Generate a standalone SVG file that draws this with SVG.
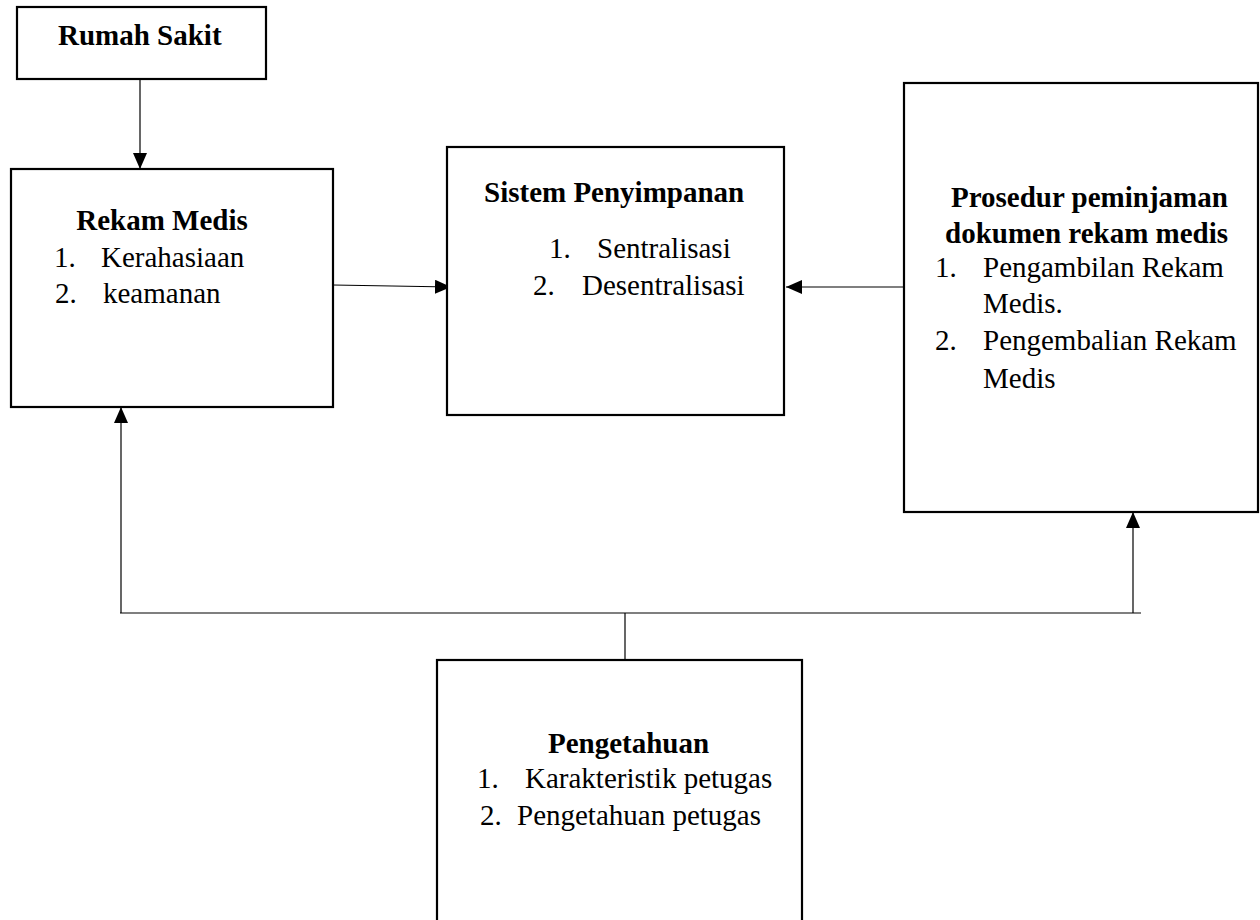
<svg xmlns="http://www.w3.org/2000/svg" width="1260" height="920" viewBox="0 0 1260 920">
<style>
.box{fill:#fff;stroke:#000;stroke-width:2.2}
.t{font-family:"Liberation Serif","Times New Roman",serif;font-size:29px;fill:#000}
.b{font-weight:bold}
.c{fill:none;stroke:#000;stroke-width:1.2}
</style>
<defs>
<marker id="ah" markerWidth="16" markerHeight="14" refX="16" refY="7" orient="auto" markerUnits="userSpaceOnUse">
<path d="M0,0 L16,7 L0,14 Z" fill="#000"/>
</marker>
</defs>
<rect width="1260" height="920" fill="#fff"/>
<g id="connectors">
<line class="c" x1="140" y1="79" x2="140" y2="169" marker-end="url(#ah)"/>
<line class="c" x1="333" y1="285" x2="451" y2="287" marker-end="url(#ah)"/>
<line class="c" x1="904" y1="287" x2="786" y2="287" marker-end="url(#ah)"/>
<polyline class="c" points="625,660 625,613"/>
<line class="c" x1="120" y1="613" x2="1141" y2="613"/>
<line class="c" x1="121" y1="613" x2="121" y2="407" marker-end="url(#ah)"/>
<line class="c" x1="1133" y1="613" x2="1133" y2="512" marker-end="url(#ah)"/>
</g>
<g id="rumah-sakit">
<rect class="box" x="17" y="7" width="249" height="72"/>
<text class="t b" x="58" y="45">Rumah Sakit</text>
</g>
<g id="rekam-medis">
<rect class="box" x="11" y="169" width="322" height="238"/>
<text class="t b" x="162" y="230" text-anchor="middle">Rekam Medis</text>
<text class="t" x="54" y="267">1.</text>
<text class="t" x="101" y="267">Kerahasiaan</text>
<text class="t" x="55" y="303">2.</text>
<text class="t" x="103" y="303">keamanan</text>
</g>
<g id="sistem-penyimpanan">
<rect class="box" x="447" y="147" width="337" height="268"/>
<text class="t b" x="484" y="202">Sistem Penyimpanan</text>
<text class="t" x="549" y="258">1.</text>
<text class="t" x="597" y="258">Sentralisasi</text>
<text class="t" x="533" y="295">2.</text>
<text class="t" x="582" y="295">Desentralisasi</text>
</g>
<g id="prosedur">
<rect class="box" x="904" y="83" width="354" height="429"/>
<text class="t b" x="951" y="207">Prosedur peminjaman</text>
<text class="t b" x="945" y="243">dokumen rekam medis</text>
<text class="t" x="935" y="277">1.</text>
<text class="t" x="983" y="277">Pengambilan Rekam</text>
<text class="t" x="983" y="313">Medis.</text>
<text class="t" x="935" y="350">2.</text>
<text class="t" x="983" y="350">Pengembalian Rekam</text>
<text class="t" x="983" y="388">Medis</text>
</g>
<g id="pengetahuan">
<rect class="box" x="437" y="660" width="365" height="270"/>
<text class="t b" x="548" y="753">Pengetahuan</text>
<text class="t" x="477" y="788">1.</text>
<text class="t" x="525" y="788">Karakteristik petugas</text>
<text class="t" x="480" y="825">2.</text>
<text class="t" x="517" y="825">Pengetahuan petugas</text>
</g>
</svg>
